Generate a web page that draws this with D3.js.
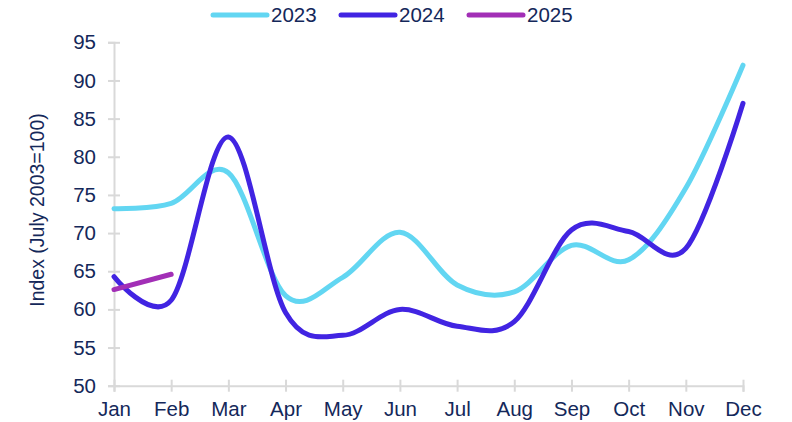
<!DOCTYPE html>
<html>
<head>
<meta charset="utf-8">
<script src="https://cdn.jsdelivr.net/npm/d3@7"></script>
<style>
  body { margin: 0; background: #fff; }
  svg text { font-family: "Liberation Sans", Arial, sans-serif; fill: #14285a; }
</style>
</head>
<body>
<svg id="chart" width="792" height="422"></svg>
<script>
const months = ["Jan","Feb","Mar","Apr","May","Jun","Jul","Aug","Sep","Oct","Nov","Dec"];
const yTicks = [50, 55, 60, 65, 70, 75, 80, 85, 90, 95];
const values2023 = [73.2, 73.9, 77.9, 61.8, 64.2, 70.1, 63.2, 62.3, 68.4, 66.5, 75.9, 92.0];
const values2024 = [64.3, 61.2, 82.6, 59.6, 56.6, 60.0, 57.8, 58.4, 70.4, 70.2, 68.0, 87.0];
const values2025 = [62.6, 64.6];

const series = [
  { name: "2023", values: values2023, color: "#62d6f2" },
  { name: "2024", values: values2024, color: "#4124e2" },
  { name: "2025", values: values2025, color: "#a22fb6" }
];

const svg = d3.select("#chart");
const axisColor = "#d9d9d9";

const x = d3.scalePoint().domain(months).range([114, 743]);
const y = d3.scaleLinear().domain([50, 95]).range([385.7, 42.3]);

// y axis, ticks cross the line like excel
const yAxis = svg.append("g").attr("transform", "translate(114,0)")
  .call(d3.axisLeft(y).tickValues(yTicks).tickSize(6));
yAxis.select(".domain").attr("stroke", axisColor).attr("stroke-width", 2);
yAxis.selectAll(".tick line").attr("stroke", axisColor).attr("stroke-width", 2).attr("x1", -6).attr("x2", 6);
yAxis.selectAll(".tick text").style("font-size", "20.5px").attr("x", -18);

// x axis
const xAxis = svg.append("g").attr("transform", "translate(0,385.7)")
  .call(d3.axisBottom(x).tickSize(6));
xAxis.select(".domain").attr("stroke", axisColor).attr("stroke-width", 2);
xAxis.selectAll(".tick line").attr("stroke", axisColor).attr("stroke-width", 2).attr("y1", -6).attr("y2", 6);
xAxis.selectAll(".tick text").style("font-size", "20.5px").attr("y", 16);

svg.append("text")
  .attr("transform", "translate(44,210) rotate(-90)")
  .attr("text-anchor", "middle")
  .style("font-size", "19.5px")
  .text("Index (July 2003=100)");

const line = d3.line()
  .x((d, i) => x(months[i]))
  .y(d => y(d))
  .curve(d3.curveCardinal.tension(0));

series.forEach(s => {
  svg.append("path")
    .datum(s.values)
    .attr("d", line)
    .attr("fill", "none")
    .attr("stroke", s.color)
    .attr("stroke-width", 5)
    .attr("stroke-linecap", "round")
    .attr("stroke-linejoin", "round");
});

// legend
const legendX = [213, 341, 469];
const legend = svg.append("g");
series.forEach((s, i) => {
  legend.append("line")
    .attr("x1", legendX[i]).attr("x2", legendX[i] + 54)
    .attr("y1", 15).attr("y2", 15)
    .attr("stroke", s.color).attr("stroke-width", 5).attr("stroke-linecap", "round");
  legend.append("text")
    .attr("x", legendX[i] + 58).attr("y", 22)
    .style("font-size", "20.5px")
    .text(s.name);
});
</script>
</body>
</html>
